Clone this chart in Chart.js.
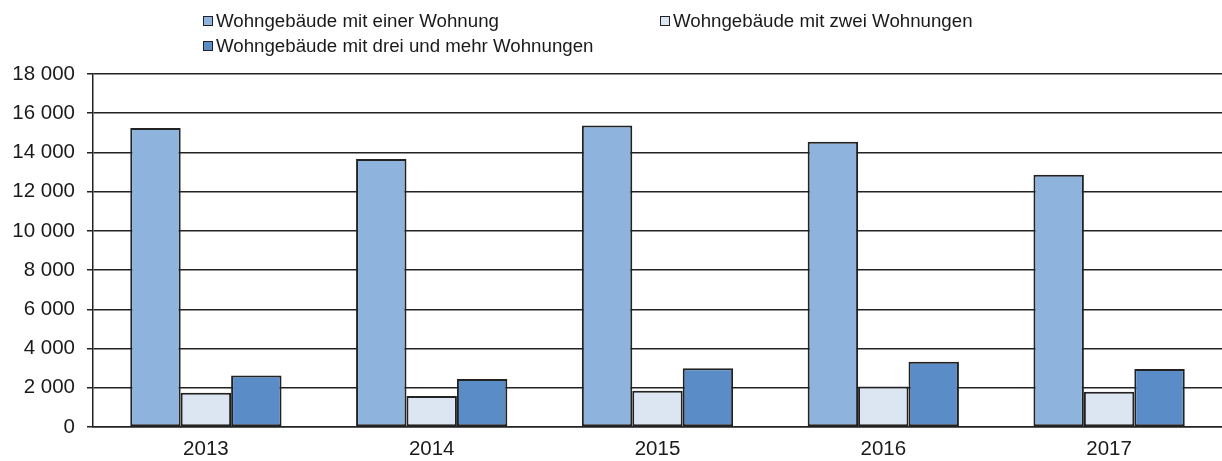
<!DOCTYPE html>
<html>
<head>
<meta charset="utf-8">
<script src="https://cdn.jsdelivr.net/npm/chart.js@4"></script>
<style>
  body { margin: 0; background: #fff; }
  #wrap { position: relative; width: 1222px; height: 461px; }
  #legend { position: absolute; left: 0; top: 0; width: 1222px; height: 60px;
            font-family: "Liberation Sans", Arial, sans-serif; font-size: 18.7px; color: #1a1a1a; }
  .item { position: absolute; white-space: nowrap; line-height: 20px; }
  .box { display: inline-block; width: 8px; height: 8px; border: 1.6px solid #222;
         margin-right: 3px; vertical-align: 1px; }
</style>
</head>
<body>
<div id="wrap">
  <canvas id="graph1" width="1222" height="461"></canvas>
  <div id="legend"></div>
</div>
<script>
// data
var years = ["2013", "2014", "2015", "2016", "2017"];
var labels = ["Wohngebäude mit einer Wohnung", "Wohngebäude mit zwei Wohnungen", "Wohngebäude mit drei und mehr Wohnungen"];
var einer = [15250, 13670, 15370, 14540, 12860];
var zwei = [1750, 1580, 1850, 2070, 1800];
var drei = [2620, 2450, 2990, 3330, 2960];
var colors = ['#8eb4de', '#dce6f2', '#5a8cc8'];

// legend spots (two columns like the original)
var legendPos = [[203, 11], [660, 11], [203, 36]];

var font = { family: '"Liberation Sans", Arial, sans-serif', size: 20.5 };
var lineCol = '#222';

function fmt(v) {
	return String(v).replace(/\B(?=(\d{3})+(?!\d))/g, ' ');
}

var ctx = document.getElementById('graph1').getContext('2d');
var chart = new Chart(ctx, {
	type: 'bar',
	data: {
		labels: years,
		datasets: [einer, zwei, drei].map(function(d, i) {
			return {
				label: labels[i],
				data: d,
				backgroundColor: colors[i],
				borderColor: '#222',
				borderWidth: 2,
				borderSkipped: false,
				categoryPercentage: 0.67,
				barPercentage: 1.0
			};
		})
	},
	options: {
		responsive: false,
		animation: false,
		devicePixelRatio: 1,
		layout: { padding: { top: 74, left: 0, right: 0, bottom: 0 } },
		plugins: {
			legend: { display: false },
			tooltip: { enabled: false }
		},
		scales: {
			x: {
				grid: { display: false, drawTicks: false },
				border: { display: true, color: lineCol, width: 1.5 },
				ticks: { font: font, color: '#1a1a1a', padding: 10 },
				afterFit: function(scale) { scale.height = 34; }
			},
			y: {
				min: 0,
				max: 18000,
				ticks: { stepSize: 2000, font: font, color: '#1a1a1a', padding: 12, callback: fmt },
				grid: { color: lineCol, lineWidth: 1.5, tickLength: 6, tickColor: lineCol },
				border: { color: lineCol, width: 1.5 },
				afterFit: function(scale) { scale.width = 93; }
			}
		}
	}
});

// html legend built from the datasets
var lg = document.getElementById('legend');
chart.data.datasets.forEach(function(ds, i) {
	var el = document.createElement('div');
	el.className = 'item';
	el.style.left = legendPos[i][0] + 'px';
	el.style.top = legendPos[i][1] + 'px';
	el.innerHTML = '<span class="box" style="background:' + ds.backgroundColor + '"></span>' + ds.label;
	lg.appendChild(el);
});
</script>
</body>
</html>
